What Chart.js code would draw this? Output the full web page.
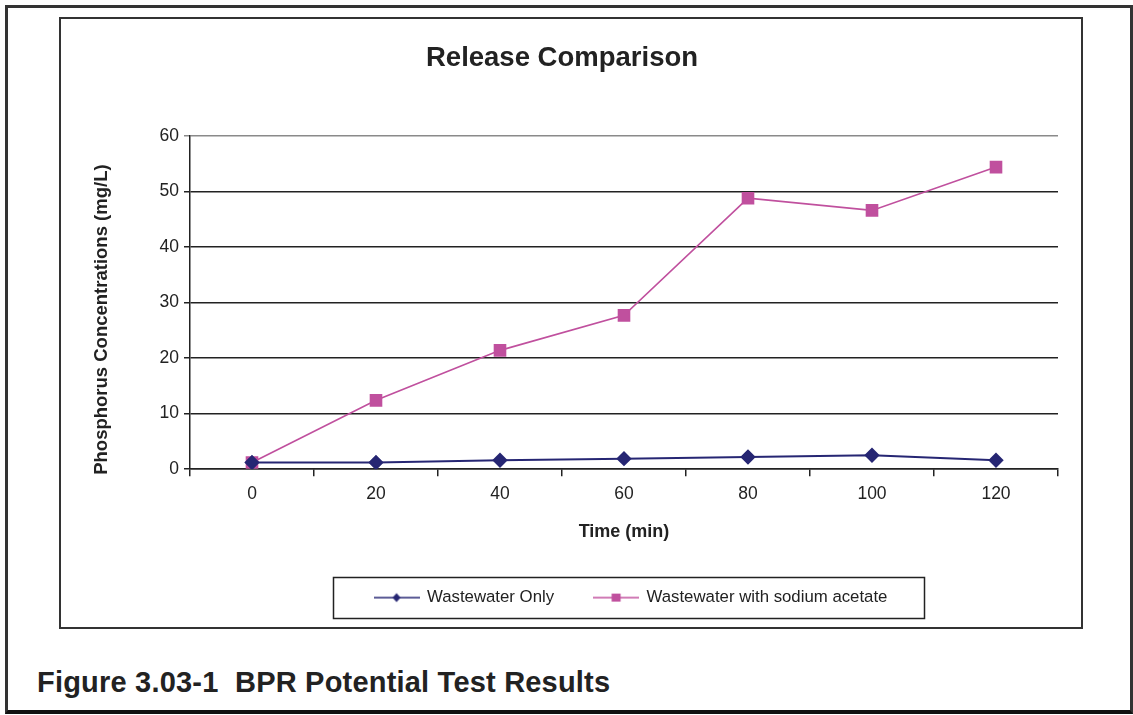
<!DOCTYPE html>
<html>
<head>
<meta charset="utf-8">
<script src="https://cdn.jsdelivr.net/npm/chart.js@4.4.1/dist/chart.umd.min.js"></script>
<style>
  html, body { margin: 0; padding: 0; background: #fff; }
  body { width: 1133px; height: 715px; position: relative; overflow: hidden; font-family: "Liberation Sans", Arial, sans-serif; }
  #frame {
    position: absolute; left: 5px; top: 5px; width: 1122px; height: 702px;
    border-left: 3px solid #333; border-top: 3px solid #333; border-right: 3px solid #333;
    border-bottom: 4px solid #111;
  }
  #chartBox {
    position: absolute; left: 59px; top: 17px; width: 1020px; height: 608px;
    border: 2px solid #333;
    background: #fff;
  }
  #chartBox canvas { display: block; }
  #caption {
    position: absolute; left: 37px; top: 666px;
    font-weight: bold; font-size: 29px; color: #222; white-space: pre;
    letter-spacing: 0.2px;
  }
</style>
</head>
<body>
<div id="frame"></div>
<div id="chartBox"><canvas id="c" width="1020" height="608"></canvas></div>
<div id="caption">Figure 3.03-1  BPR Potential Test Results</div>
<script>
// Sampling times (min) and phosphorus readings (mg/L)
const timeLabels = ['0', '20', '40', '60', '80', '100', '120'];
const wastewaterOnly = [1.2, 1.2, 1.6, 1.9, 2.2, 2.5, 1.6];
const withAcetate = [1.2, 12.4, 21.4, 27.7, 48.8, 46.6, 54.4];
const yTicks = [0, 10, 20, 30, 40, 50, 60];
const yTitle = 'Phosphorus Concentrations (mg/L)';

const NAVY = '#262673';
const MAGENTA = '#c0509e';
const FONT = '"Liberation Sans", Arial, sans-serif';

// Legend swatch: short line with the series marker in the middle
function swatch(color, marker, lineW) {
  const cv = document.createElement('canvas');
  cv.width = 46; cv.height = 14;
  const g = cv.getContext('2d');
  g.strokeStyle = color; g.lineWidth = lineW;
  g.beginPath(); g.moveTo(0, 7); g.lineTo(46, 7); g.stroke();
  g.fillStyle = color;
  g.beginPath();
  if (marker === 'diamond') {
    g.moveTo(23, 2.5); g.lineTo(27, 7); g.lineTo(23, 11.5); g.lineTo(19, 7); g.closePath();
  } else {
    g.rect(18.5, 3, 9, 8);
  }
  g.fill();
  return cv;
}
const swatches = [swatch(NAVY, 'diamond', 1.6), swatch(MAGENTA, 'square', 1.4)];

// The legend sits a little right of centre, inside a thin frame
const LEGEND_SHIFT = 69;
const legendFrame = {
  id: 'legendFrame',
  afterLayout(chart) {
    const lg = chart.legend;
    if (!lg) return;
    lg.left += LEGEND_SHIFT;
    lg.right += LEGEND_SHIFT;
  },
  afterDraw(chart) {
    const lg = chart.legend;
    if (!lg || !lg.legendHitBoxes || !lg.legendHitBoxes.length) return;
    const hb = lg.legendHitBoxes;
    let l = Infinity, r = -Infinity, t = Infinity, b = -Infinity;
    hb.forEach(h => { l = Math.min(l, h.left); r = Math.max(r, h.left + h.width); t = Math.min(t, h.top); b = Math.max(b, h.top + h.height); });
    const ctx = chart.ctx;
    ctx.save();
    ctx.strokeStyle = '#222';
    ctx.lineWidth = 1.5;
    ctx.strokeRect(Math.round(l - 42) + 0.5, Math.round(t - 12) + 0.5, Math.round(r - l + 78), Math.round(b - t + 24));
    ctx.restore();
  }
};

// Vertical axis caption, set slightly below the middle of the value axis
const yCaption = {
  id: 'yCaption',
  afterDraw(chart) {
    const y = chart.scales.y;
    const ctx = chart.ctx;
    ctx.save();
    ctx.translate(41, (y.top + y.bottom) / 2 + 17);
    ctx.rotate(-Math.PI / 2);
    ctx.font = 'bold 18.5px ' + FONT;
    ctx.fillStyle = '#222';
    ctx.textAlign = 'center';
    ctx.textBaseline = 'middle';
    ctx.fillText(yTitle, 0, 0);
    ctx.restore();
  }
};

Chart.defaults.font.family = FONT;
Chart.defaults.color = '#222';

new Chart(document.getElementById('c'), {
  type: 'line',
  data: {
    labels: timeLabels,
    datasets: [
      {
        label: 'Wastewater Only',
        data: wastewaterOnly,
        borderColor: NAVY, backgroundColor: NAVY,
        borderWidth: 2, pointStyle: 'rectRot', pointRadius: 6.3, pointHoverRadius: 6.3,
        tension: 0, fill: false
      },
      {
        label: 'Wastewater with sodium acetate',
        data: withAcetate,
        borderColor: MAGENTA, backgroundColor: MAGENTA,
        borderWidth: 1.6, pointStyle: 'rect', pointRadius: 7.8, pointHoverRadius: 7.8,
        tension: 0, fill: false
      }
    ]
  },
  options: {
    responsive: false,
    animation: false,
    events: [],
    layout: { padding: { left: 5, right: 23, top: 0, bottom: 11 } },
    plugins: {
      title: {
        display: true, text: 'Release Comparison', color: '#222',
        font: { size: 27.5, weight: 'bold' },
        padding: { top: 23, bottom: 61 }
      },
      legend: {
        position: 'bottom',
        labels: {
          color: '#222',
          font: { size: 16.8 },
          padding: 40,
          usePointStyle: true,
          pointStyleWidth: 44,
          generateLabels(chart) {
            return chart.data.datasets.map((ds, i) => ({
              text: ds.label, datasetIndex: i, pointStyle: swatches[i],
              fillStyle: ds.borderColor, strokeStyle: ds.borderColor, lineWidth: 0,
              fontColor: '#222', hidden: false
            }));
          }
        }
      },
      tooltip: { enabled: false }
    },
    scales: {
      x: {
        type: 'category',
        offset: true,
        grid: { display: true, offset: true, drawOnChartArea: false, drawTicks: true, tickLength: 7, color: '#222', lineWidth: 1.5 },
        border: { display: true, color: '#222', width: 1.5 },
        ticks: { color: '#222', font: { size: 17.5 }, padding: 7, maxRotation: 0 },
        title: { display: true, text: 'Time (min)', color: '#222', font: { size: 18, weight: 'bold' }, padding: { top: 0, bottom: 6 } },
        afterFit(scale) { scale.width = scale.width; scale.height = 80; }
      },
      y: {
        min: 0, max: 60,
        afterBuildTicks(scale) { scale.ticks = yTicks.map(v => ({ value: v })); },
        grid: {
          drawTicks: true, tickLength: 6, lineWidth: 1.5,
          color: ctx => (ctx.tick && ctx.tick.value === 60 ? '#8a8a8a' : '#222')
        },
        border: { display: true, color: '#222', width: 1.5 },
        ticks: { color: '#222', font: { size: 17.5 }, padding: 5 },
        title: { display: false },
        afterFit(scale) { scale.width = 124; }
      }
    }
  },
  plugins: [legendFrame, yCaption]
});
</script>
</body>
</html>
